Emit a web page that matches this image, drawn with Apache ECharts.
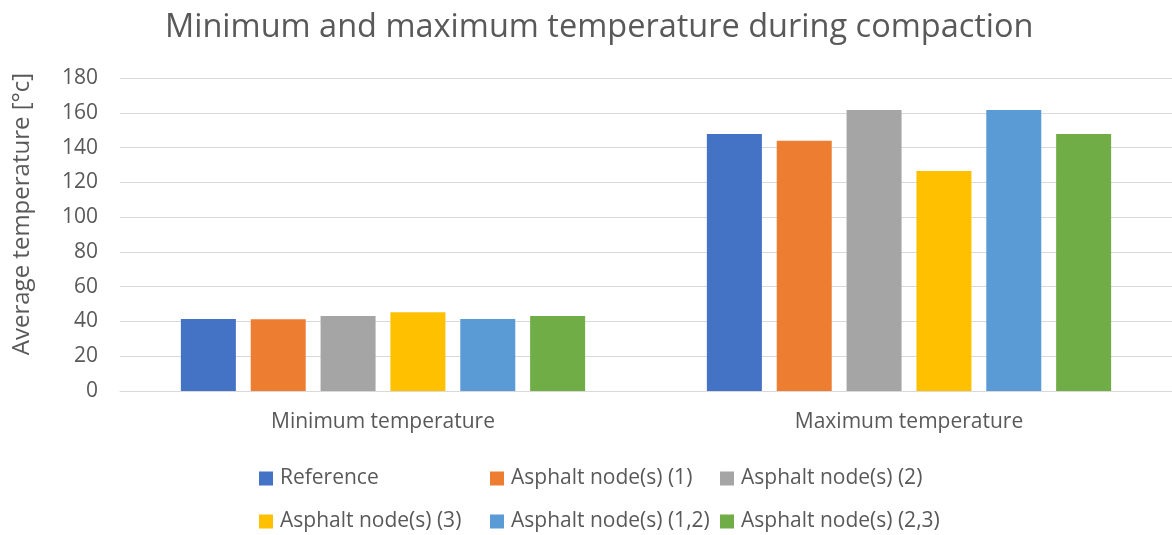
<!DOCTYPE html>
<html>
<head>
<meta charset="utf-8">
<script src="https://cdn.jsdelivr.net/npm/echarts@6/dist/echarts.min.js"></script>
<style>
  html, body { margin: 0; padding: 0; background: #fff; }
  #chart { width: 1172px; height: 535px; }
</style>
</head>
<body>
<div id="chart"></div>
<script>
// Categories along the x axis
const categories = ['Minimum temperature', 'Maximum temperature'];

// Average temperature [°c] for each model variant
const reference   = [41.4, 147.8];
const asphalt1    = [41.2, 143.9];
const asphalt2    = [43.1, 161.6];
const asphalt3    = [45.3, 126.5];
const asphalt12   = [41.4, 161.6];
const asphalt23   = [43.1, 147.8];

const seriesNames = [
  'Reference',
  'Asphalt node(s) (1)',
  'Asphalt node(s) (2)',
  'Asphalt node(s) (3)',
  'Asphalt node(s) (1,2)',
  'Asphalt node(s) (2,3)'
];
const seriesValues = [reference, asphalt1, asphalt2, asphalt3, asphalt12, asphalt23];
const colors = ['#4472C4', '#ED7D31', '#A5A5A5', '#FFC000', '#5B9BD5', '#70AD47'];

const FONT = '"Open Sans", Lato, sans-serif';
const TEXT = '#595959';

// Legend laid out as a 3 x 2 grid of fixed columns
const legendCols = [259, 490, 720];
const legendRows = [468, 511];
const legends = seriesNames.map((name, i) => ({
  left: legendCols[i % 3],
  top: legendRows[Math.floor(i / 3)],
  padding: 0,
  icon: 'rect',
  itemWidth: 14,
  itemHeight: 14,
  itemGap: 0,
  textStyle: { color: TEXT, fontFamily: FONT, fontSize: 21, padding: [0, 0, 0, 2] },
  data: [name]
}));

const chart = echarts.init(document.getElementById('chart'), null, { renderer: 'canvas' });

chart.setOption({
  animation: false,
  color: colors,
  title: {
    text: 'Minimum and maximum temperature during compaction',
    left: 160,
    top: 6,
    textStyle: { color: TEXT, fontFamily: FONT, fontSize: 32.5, fontWeight: 'normal' }
  },
  legend: legends,
  grid: { left: 120, top: 78, width: 1056, height: 313, containLabel: false },
  graphic: [{
    type: 'text',
    x: 22,
    y: 214,
    rotation: Math.PI / 2,
    style: {
      text: 'Average temperature [°c]',
      fill: TEXT,
      font: '24px ' + FONT,
      align: 'center',
      verticalAlign: 'middle'
    }
  }],
  xAxis: {
    type: 'category',
    data: categories,
    axisLine: { lineStyle: { color: '#D9D9D9', width: 1 } },
    axisTick: { show: false },
    axisLabel: { color: TEXT, fontFamily: FONT, fontSize: 21, margin: 21 }
  },
  yAxis: {
    type: 'value',
    min: 0,
    max: 180,
    interval: 20,
    axisLine: { show: false },
    axisTick: { show: false },
    splitLine: { lineStyle: { color: '#D9D9D9', width: 1 } },
    axisLabel: { color: TEXT, fontFamily: FONT, fontSize: 21, margin: 22 }
  },
  series: seriesNames.map((name, i) => ({
    name: name,
    type: 'bar',
    data: seriesValues[i],
    barWidth: 55,
    barGap: '27%',
    itemStyle: { color: colors[i] }
  }))
});
</script>
</body>
</html>
